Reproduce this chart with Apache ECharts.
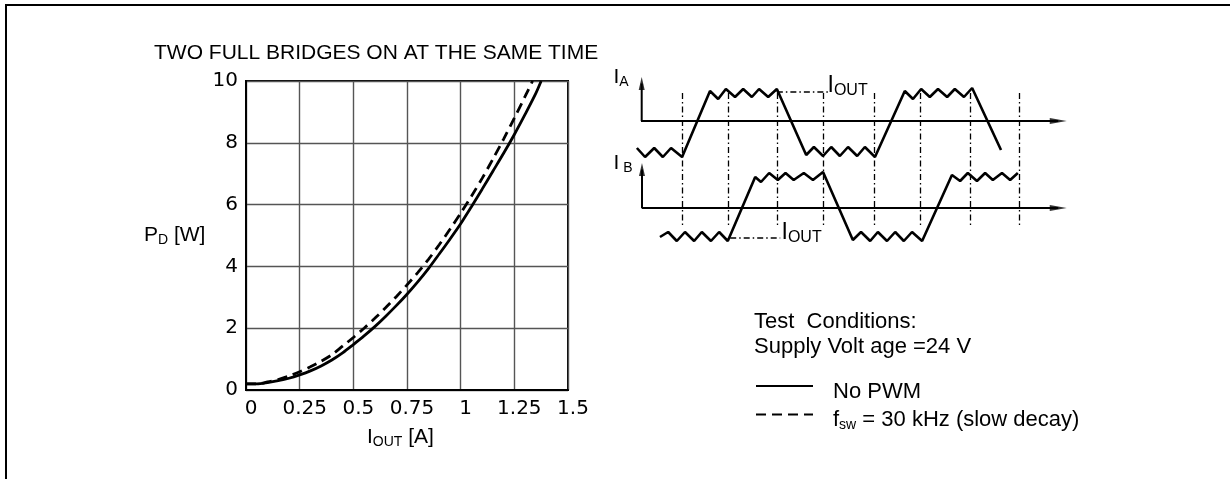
<!DOCTYPE html>
<html>
<head>
<meta charset="utf-8">
<script src="https://cdn.jsdelivr.net/npm/echarts@6/dist/echarts.min.js"></script>
<style>
html,body{margin:0;padding:0;background:#fff;}
#c{width:1231px;height:479px;}
</style>
</head>
<body>
<div id="c"></div>
<script>
// ---- Power dissipation curves (I_OUT [A] vs P_D [W]) ----
var xTickLabels = ['0', '0.25', '0.5', '0.75', '1', '1.25', '1.5'];
var yTickLabels = ['0', '2', '4', '6', '8', '10'];

var iNoPwm = [0, 0.05, 0.1, 0.15, 0.2, 0.25, 0.3, 0.35, 0.4, 0.45, 0.5, 0.55, 0.6, 0.65, 0.7, 0.75, 0.8, 0.85, 0.9, 0.95, 1.0, 1.05, 1.1, 1.15, 1.2, 1.25, 1.3, 1.35, 1.375];
var pNoPwm = [0.2, 0.2, 0.24, 0.3, 0.38, 0.49, 0.62, 0.78, 0.97, 1.2, 1.47, 1.75, 2.05, 2.38, 2.73, 3.1, 3.5, 3.93, 4.4, 4.88, 5.38, 5.93, 6.5, 7.08, 7.66, 8.27, 8.92, 9.6, 10];

var iPwm = [0, 0.05, 0.1, 0.15, 0.2, 0.25, 0.3, 0.35, 0.4, 0.45, 0.5, 0.55, 0.6, 0.65, 0.7, 0.75, 0.8, 0.85, 0.9, 0.95, 1.0, 1.05, 1.1, 1.15, 1.2, 1.25, 1.3, 1.335];
var pPwm = [0.2, 0.2, 0.26, 0.34, 0.45, 0.59, 0.75, 0.93, 1.14, 1.42, 1.7, 2.0, 2.32, 2.66, 3.02, 3.4, 3.8, 4.23, 4.7, 5.2, 5.72, 6.27, 6.85, 7.47, 8.12, 8.8, 9.5, 10];

// ---- Timing diagram (time steps vs current level relative to each baseline) ----
var waveA = [
  [0.06,-27],[0.23,-36],[0.42,-27],[0.60,-36],[0.77,-27],[1.00,-36],
  [1.58,30],[1.75,22],[1.91,32],[2.10,24],[2.27,32],[2.45,24],[2.60,32],[2.79,24],[2.97,32],
  [3.58,-34],[3.74,-26],[3.93,-35],[4.10,-26],[4.28,-35],[4.45,-26],[4.64,-35],[4.80,-26],[5.01,-36],
  [5.63,30],[5.80,22],[5.97,32],[6.15,24],[6.32,32],[6.51,24],[6.67,32],[6.86,24],[7.03,33],
  [7.63,-29]
];
var waveB = [
  [0.54,-29],[0.71,-24],[0.89,-33],[1.06,-24],[1.25,-33],[1.41,-24],[1.60,-33],[1.77,-24],[1.95,-33],
  [2.52,31],[2.64,26],[2.81,35],[2.99,28],[3.15,35],[3.32,28],[3.53,35],[3.72,28],[3.93,36],
  [4.55,-32],[4.72,-24],[4.91,-33],[5.07,-24],[5.26,-33],[5.43,-24],[5.61,-33],[5.78,-24],[5.99,-33],
  [6.61,33],[6.78,27],[6.94,35],[7.13,27],[7.30,35],[7.46,28],[7.65,35],[7.82,28],[7.98,35]
];
var dashTimes = [1.0, 1.95, 2.97, 3.93, 4.99, 5.95, 6.99, 8.0];
var dashSpan = [28, -106];
var ioutA = [[2.97, 29], [4.03, 29]];
var ioutB = [[2.0, -30], [3.04, -30]];
var axisHorizA = [[0.145, 0], [8.82, 0]];
var axisVertA = [[0.16, 0], [0.16, 37.5]];
var axisHorizB = [[0.16, 0], [8.82, 0]];
var axisVertB = [[0.166, 0], [0.166, 38.5]];

function zip(xs, ys) { return xs.map(function (x, i) { return [x, ys[i]]; }); }

var FONT = 'Liberation Sans, Arial, sans-serif';
var TICKFONT = 'DejaVu Sans, sans-serif';

var dashLines = dashTimes.map(function (t) {
  return [{ coord: [t, dashSpan[0]] }, { coord: [t, dashSpan[1]] }];
});

var waveLine = { color: '#000', width: 2.6 };
var dashDot = { color: '#000', width: 1.3, type: [6, 3, 1.5, 3] };

var hiddenX = function (idx) { return { type: 'value', gridIndex: idx, min: 0, max: 10, show: false }; };
var hiddenY = function (idx) { return { type: 'value', gridIndex: idx, min: -140, max: 60, show: false }; };

var option = {
  animation: false,
  backgroundColor: '#fff',
  grid: [
    { left: 246, top: 81, width: 322, height: 309, show: true, borderColor: '#000', borderWidth: 2, backgroundColor: 'transparent' },
    { left: 634, top: 61, width: 481, height: 200 },
    { left: 634, top: 148, width: 481, height: 200 }
  ],
  xAxis: [
    {
      type: 'value', gridIndex: 0, min: 0, max: 1.5, interval: 0.25,
      axisLine: { show: true, onZero: false, lineStyle: { color: '#000', width: 2 } },
      axisTick: { show: false },
      splitLine: { show: true, lineStyle: { color: '#555', width: 1.4 } },
      axisLabel: {
        show: true, margin: 9, color: '#000', fontFamily: TICKFONT, fontSize: 20,
        padding: [0, 0, 0, 10], showMinLabel: true, showMaxLabel: true,
        formatter: function (v) { return xTickLabels[Math.round(v / 0.25)]; }
      }
    },
    hiddenX(1), hiddenX(2)
  ],
  yAxis: [
    {
      type: 'value', gridIndex: 0, min: 0, max: 10, interval: 2,
      axisLine: { show: true, lineStyle: { color: '#000', width: 2 } },
      axisTick: { show: false },
      splitLine: { show: true, lineStyle: { color: '#555', width: 1.4 } },
      axisLabel: {
        show: true, margin: 8, color: '#000', fontFamily: TICKFONT, fontSize: 20,
        padding: [6, 0, 0, 0], showMinLabel: true, showMaxLabel: true,
        formatter: function (v) { return yTickLabels[Math.round(v / 2)]; }
      }
    },
    hiddenY(1), hiddenY(2)
  ],
  legend: {
    show: true, orient: 'vertical', left: 750, top: 375.5,
    itemWidth: 57, itemHeight: 10, itemGap: 6.5, selectedMode: false,
    data: ['No PWM', 'fsw'],
    lineStyle: { width: 2 },
    itemStyle: { opacity: 0, borderWidth: 0 },
    formatter: function (name) {
      if (name === 'fsw') return '{n|f}{s|sw}{n| = 30 kHz (slow decay)}';
      return '{n|' + name + '}';
    },
    textStyle: {
      color: '#000', fontFamily: FONT, fontSize: 22, padding: [11, 0, 0, 15],
      rich: {
        n: { fontFamily: FONT, fontSize: 22, lineHeight: 24, color: '#000' },
        s: { fontFamily: FONT, fontSize: 14, lineHeight: 14, verticalAlign: 'bottom', color: '#000' }
      }
    }
  },
  series: [
    {
      name: 'No PWM', type: 'line', xAxisIndex: 0, yAxisIndex: 0,
      data: zip(iNoPwm, pNoPwm), symbol: 'none', smooth: 0.3,
      lineStyle: { color: '#000', width: 2.8, type: 'solid' }, itemStyle: { color: '#000' }
    },
    {
      name: 'fsw', type: 'line', xAxisIndex: 0, yAxisIndex: 0,
      data: zip(iPwm, pPwm), symbol: 'none', smooth: 0.3,
      lineStyle: { color: '#000', width: 2.8, type: [10, 6] }, itemStyle: { color: '#000' }
    },
    {
      name: 'IA', type: 'line', xAxisIndex: 1, yAxisIndex: 1, data: waveA, symbol: 'none',
      lineStyle: waveLine, clip: false,
      markLine: { silent: true, symbol: 'none', label: { show: false }, lineStyle: dashDot, data: dashLines }
    },
    {
      name: 'IB', type: 'line', xAxisIndex: 2, yAxisIndex: 2, data: waveB, symbol: 'none',
      lineStyle: waveLine, clip: false
    },
    { name: 'ioutA', type: 'line', xAxisIndex: 1, yAxisIndex: 1, data: ioutA, symbol: 'none', lineStyle: dashDot },
    { name: 'ioutB', type: 'line', xAxisIndex: 2, yAxisIndex: 2, data: ioutB, symbol: 'none', lineStyle: dashDot },
    { name: 'axA1', type: 'line', xAxisIndex: 1, yAxisIndex: 1, data: axisHorizA, symbol: 'none', lineStyle: { color: '#000', width: 2 } },
    { name: 'axA2', type: 'line', xAxisIndex: 1, yAxisIndex: 1, data: axisVertA, symbol: 'none', lineStyle: { color: '#000', width: 2 } },
    { name: 'axB1', type: 'line', xAxisIndex: 2, yAxisIndex: 2, data: axisHorizB, symbol: 'none', lineStyle: { color: '#000', width: 2 } },
    { name: 'axB2', type: 'line', xAxisIndex: 2, yAxisIndex: 2, data: axisVertB, symbol: 'none', lineStyle: { color: '#000', width: 2 } },
    {
      name: 'headsA', type: 'scatter', xAxisIndex: 1, yAxisIndex: 1, silent: true,
      itemStyle: { color: '#000' },
      data: [
        { value: axisHorizA[1], symbol: 'triangle', symbolSize: [6, 17], symbolRotate: -90 },
        { value: axisVertA[1], symbol: 'triangle', symbolSize: [6, 13] }
      ]
    },
    {
      name: 'headsB', type: 'scatter', xAxisIndex: 2, yAxisIndex: 2, silent: true,
      itemStyle: { color: '#000' },
      data: [
        { value: axisHorizB[1], symbol: 'triangle', symbolSize: [6, 17], symbolRotate: -90 },
        { value: axisVertB[1], symbol: 'triangle', symbolSize: [6, 13] }
      ]
    }
  ],
  graphic: [
    { type: 'polyline', silent: true, shape: { points: [[6, 479], [6, 5], [1230, 5]] }, style: { stroke: '#000', lineWidth: 2, fill: null } },
    { type: 'text', x: 154, y: 53, style: { text: 'TWO FULL BRIDGES ON AT THE SAME TIME', font: '21px ' + FONT, fill: '#000', verticalAlign: 'middle' } },
    { type: 'text', x: 144, y: 235, style: {
      text: '{a|P}{b|D}{a| [W]}', verticalAlign: 'middle', fill: '#000',
      rich: { a: { fontFamily: FONT, fontSize: 21, lineHeight: 24 }, b: { fontFamily: FONT, fontSize: 14, lineHeight: 14, verticalAlign: 'bottom' } } } },
    { type: 'text', x: 367, y: 437, style: {
      text: '{a|I}{b|OUT}{a| [A]}', verticalAlign: 'middle', fill: '#000',
      rich: { a: { fontFamily: FONT, fontSize: 21, lineHeight: 24 }, b: { fontFamily: FONT, fontSize: 14, lineHeight: 14, verticalAlign: 'bottom' } } } },
    { type: 'text', x: 613.5, y: 77, style: {
      text: '{a|I}{b|A}', verticalAlign: 'middle', fill: '#000',
      rich: { a: { fontFamily: FONT, fontSize: 21, lineHeight: 24 }, b: { fontFamily: FONT, fontSize: 14, lineHeight: 14, verticalAlign: 'bottom' } } } },
    { type: 'text', x: 613.5, y: 163, style: {
      text: '{a|I}{b| B}', verticalAlign: 'middle', fill: '#000',
      rich: { a: { fontFamily: FONT, fontSize: 21, lineHeight: 24 }, b: { fontFamily: FONT, fontSize: 14, lineHeight: 14, verticalAlign: 'bottom' } } } },
    { type: 'text', x: 827.5, y: 86, style: {
      text: '{a|I}{b|OUT}', verticalAlign: 'middle', fill: '#000',
      rich: { a: { fontFamily: FONT, fontSize: 23, lineHeight: 26 }, b: { fontFamily: FONT, fontSize: 16, lineHeight: 16, verticalAlign: 'bottom' } } } },
    { type: 'text', x: 781.5, y: 233, style: {
      text: '{a|I}{b|OUT}', verticalAlign: 'middle', fill: '#000',
      rich: { a: { fontFamily: FONT, fontSize: 23, lineHeight: 26 }, b: { fontFamily: FONT, fontSize: 16, lineHeight: 20, verticalAlign: 'bottom' } } } },
    { type: 'text', x: 754, y: 321.5, style: { text: 'Test  Conditions:', font: '22px ' + FONT, fill: '#000', verticalAlign: 'middle' } },
    { type: 'text', x: 754, y: 346.5, style: { text: 'Supply Volt age =24 V', font: '22px ' + FONT, fill: '#000', verticalAlign: 'middle' } }
  ]
};

var chart = echarts.init(document.getElementById('c'), null, { renderer: 'canvas' });
chart.setOption(option);
</script>
</body>
</html>
